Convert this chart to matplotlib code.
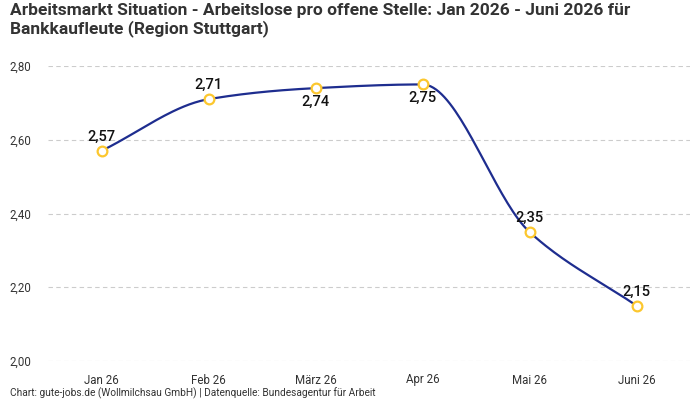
import numpy as np
import matplotlib
matplotlib.use("Agg")
import matplotlib.pyplot as plt

plt.rcParams['font.family'] = ['Roboto', 'DejaVu Sans']

categories = ["Jan 26", "Feb 26", "März 26", "Apr 26", "Mai 26", "Juni 26"]
values = [2.57, 2.71, 2.74, 2.75, 2.35, 2.15]
label_above = [True, True, False, False, True, True]
yticks = [2.00, 2.20, 2.40, 2.60, 2.80]


def monotone_curve(x, y, n=40):
    x = np.asarray(x, float); y = np.asarray(y, float)
    h = np.diff(x); d = np.diff(y) / h
    m = np.zeros_like(y)
    m[0] = d[0]; m[-1] = d[-1]
    for i in range(1, len(y) - 1):
        if d[i - 1] * d[i] <= 0:
            m[i] = 0
        else:
            w1 = 2 * h[i] + h[i - 1]; w2 = h[i] + 2 * h[i - 1]
            m[i] = (w1 + w2) / (w1 / d[i - 1] + w2 / d[i])
    xs, ys = [], []
    for i in range(len(x) - 1):
        t = np.linspace(0, 1, n)
        h00 = 2*t**3 - 3*t**2 + 1; h10 = t**3 - 2*t**2 + t
        h01 = -2*t**3 + 3*t**2; h11 = t**3 - t**2
        xs.append(x[i] + t*h[i])
        ys.append(h00*y[i] + h10*h[i]*m[i] + h01*y[i+1] + h11*h[i]*m[i+1])
    return np.concatenate(xs), np.concatenate(ys)


fig = plt.figure(figsize=(7, 4), dpi=100)
ax = fig.add_axes([48/700, 1-361/400, 642/700, (361-66)/400])

xpos = np.arange(len(categories))
cx, cy = monotone_curve(xpos, values)
ax.plot(cx, cy, color="#1e2d8f", lw=1.6, zorder=3)
ax.plot(xpos, values, 'o', ms=7, mfc="white", mec="#fcc72e", mew=1.6, zorder=4)

for x, v, up in zip(xpos, values, label_above):
    txt = f"{v:.2f}".replace(".", ",")
    if up:
        ax.annotate(txt, (x, v), xytext=(0, 5), textcoords="offset points",
                    ha="center", va="bottom", fontsize=10.5, color="#111111", fontweight="medium", zorder=5)
    else:
        ax.annotate(txt, (x, v), xytext=(0, -5), textcoords="offset points",
                    ha="center", va="top", fontsize=10.5, color="#111111", fontweight="medium", zorder=5)

ax.set_xlim(-0.5, len(categories) - 0.5)
ax.set_ylim(2.0, 2.8)
ax.set_yticks(yticks)
ax.set_yticklabels([f"{t:.2f}".replace(".", ",") for t in yticks])
ax.set_xticks(xpos)
ax.set_xticklabels(categories)
ax.tick_params(axis='both', length=0, labelsize=8.3, colors="#333333")
ax.tick_params(axis='y', pad=12)
ax.tick_params(axis='x', pad=9)
for s in ax.spines.values():
    s.set_visible(False)
ax.grid(axis='y', color="#cccccc", linestyle=(0, (4, 3)), lw=0.8)
ax.set_axisbelow(True)

fig.text(10/700, 1-3/400, "Arbeitsmarkt Situation - Arbeitslose pro offene Stelle: Jan 2026 - Juni 2026 für\nBankkaufleute (Region Stuttgart)",
         ha="left", va="top", fontsize=12.5, fontweight="bold", color="#333333", linespacing=1.15)
fig.text(10/700, 1-393/400, "Chart: gute-jobs.de (Wollmilchsau GmbH) | Datenquelle: Bundesagentur für Arbeit",
         ha="left", va="center", fontsize=7.3, color="#333333")

fig.savefig("out.png", dpi=100)
